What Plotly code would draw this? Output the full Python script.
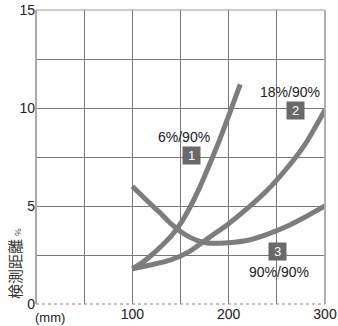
import plotly.graph_objects as go

# Curve 1: 6%/90%
c1_x = [100, 110, 120, 130, 140, 150, 160, 170, 180, 190, 200, 212]
c1_y = [1.8, 2.1, 2.5, 2.95, 3.45, 4.1, 4.95, 5.95, 7.1, 8.3, 9.6, 11.2]

# Curve 2: 18%/90%
c2_x = [100, 120, 140, 160, 180, 200, 220, 240, 260, 280, 300]
c2_y = [1.8, 2.0, 2.25, 2.7, 3.4, 4.1, 4.9, 5.8, 6.9, 8.2, 9.9]

# Curve 3: 90%/90%
c3_x = [100, 110, 120, 130, 140, 150, 160, 170, 180, 190, 200, 220, 240, 260, 280, 300]
c3_y = [6.0, 5.52, 5.05, 4.6, 4.1, 3.7, 3.4, 3.2, 3.1, 3.1, 3.12, 3.25, 3.55, 3.95, 4.45, 5.0]

x_ticks = [0, 50, 100, 150, 200, 250, 300]
x_tick_text = ["", "", "100", "", "200", "", "300"]
y_ticks = [0, 2.5, 5, 7.5, 10, 12.5, 15]
y_tick_text = ["0", "", "5", "", "10", "", "15"]

curve_color = "rgb(125,125,125)"
grid_color = "rgb(120,120,120)"
font_main = "Liberation Sans, Arial, sans-serif"

fig = go.Figure()
for xs, ys in [(c3_x, c3_y), (c2_x, c2_y), (c1_x, c1_y)]:
    fig.add_trace(go.Scatter(
        x=xs, y=ys, mode="lines",
        line=dict(color=curve_color, width=5, shape="spline", smoothing=0.6),
        showlegend=False, hoverinfo="skip",
    ))

# curve labels: (value text, number badge, text position, badge position)
labels = [
    ("6%/90%", "1", (153.5, 8.52), (161, 7.6)),
    ("18%/90%", "2", (264, 10.8), (269, 9.85)),
    ("90%/90%", "3", (252, 1.63), (251, 2.7)),
]
for txt, num, (tx, ty), (bx, by) in labels:
    fig.add_annotation(x=tx, y=ty, text=txt, showarrow=False,
                       font=dict(family=font_main, size=14, color="#222"))
    fig.add_annotation(x=bx, y=by, text=num, showarrow=False,
                       font=dict(family=font_main, size=13, color="white"),
                       bgcolor="rgb(105,105,105)", width=13, height=13,
                       borderpad=2)

# unit label on the x axis
fig.add_annotation(xref="paper", yref="paper", x=(50 - 36) / 289, y=0,
                   xanchor="center", yanchor="top", yshift=-4,
                   text="(mm)", showarrow=False,
                   font=dict(family=font_main, size=13, color="#222"))

# y axis title
fig.add_annotation(xref="paper", yref="paper", x=(14 - 36) / 289,
                   y=(304 - 264) / 294, xanchor="center", yanchor="middle",
                   textangle=-90, showarrow=False,
                   text="検測距離 <span style='font-size:8px'>%</span>",
                   font=dict(family="Noto Sans CJK JP", size=15, color="#333"))

fig.update_xaxes(
    range=[0, 300], tickvals=x_ticks, ticktext=x_tick_text,
    showgrid=True, gridcolor=grid_color, gridwidth=1,
    zeroline=False, showline=False, ticks="", automargin=False,
    tickfont=dict(family=font_main, size=14, color="#222"),
)
fig.update_yaxes(
    range=[0, 15], tickvals=y_ticks, ticktext=y_tick_text,
    showgrid=True, gridcolor=grid_color, gridwidth=1,
    zeroline=False, showline=False, ticks="", automargin=False,
    tickfont=dict(family=font_main, size=14, color="#222"),
)

# frame: lighter left and right edges, thin dotted bottom
fig.add_shape(type="line", xref="paper", yref="paper", x0=0, x1=0, y0=0, y1=1,
              line=dict(color="rgb(170,170,170)", width=2))
fig.add_shape(type="line", xref="paper", yref="paper", x0=1, x1=1, y0=0, y1=1,
              line=dict(color="rgb(175,175,175)", width=2))
fig.add_shape(type="line", xref="paper", yref="paper", x0=0, x1=1, y0=0, y1=0,
              line=dict(color="rgb(130,130,130)", width=1, dash="dot"))
fig.add_shape(type="line", xref="paper", yref="paper", x0=0, x1=1, y0=1, y1=1,
              line=dict(color="rgb(150,150,150)", width=1))

fig.update_layout(
    width=338, height=326,
    margin=dict(l=36, r=13, t=10, b=22),
    plot_bgcolor="white", paper_bgcolor="white",
)

fig.write_html("out.html")
